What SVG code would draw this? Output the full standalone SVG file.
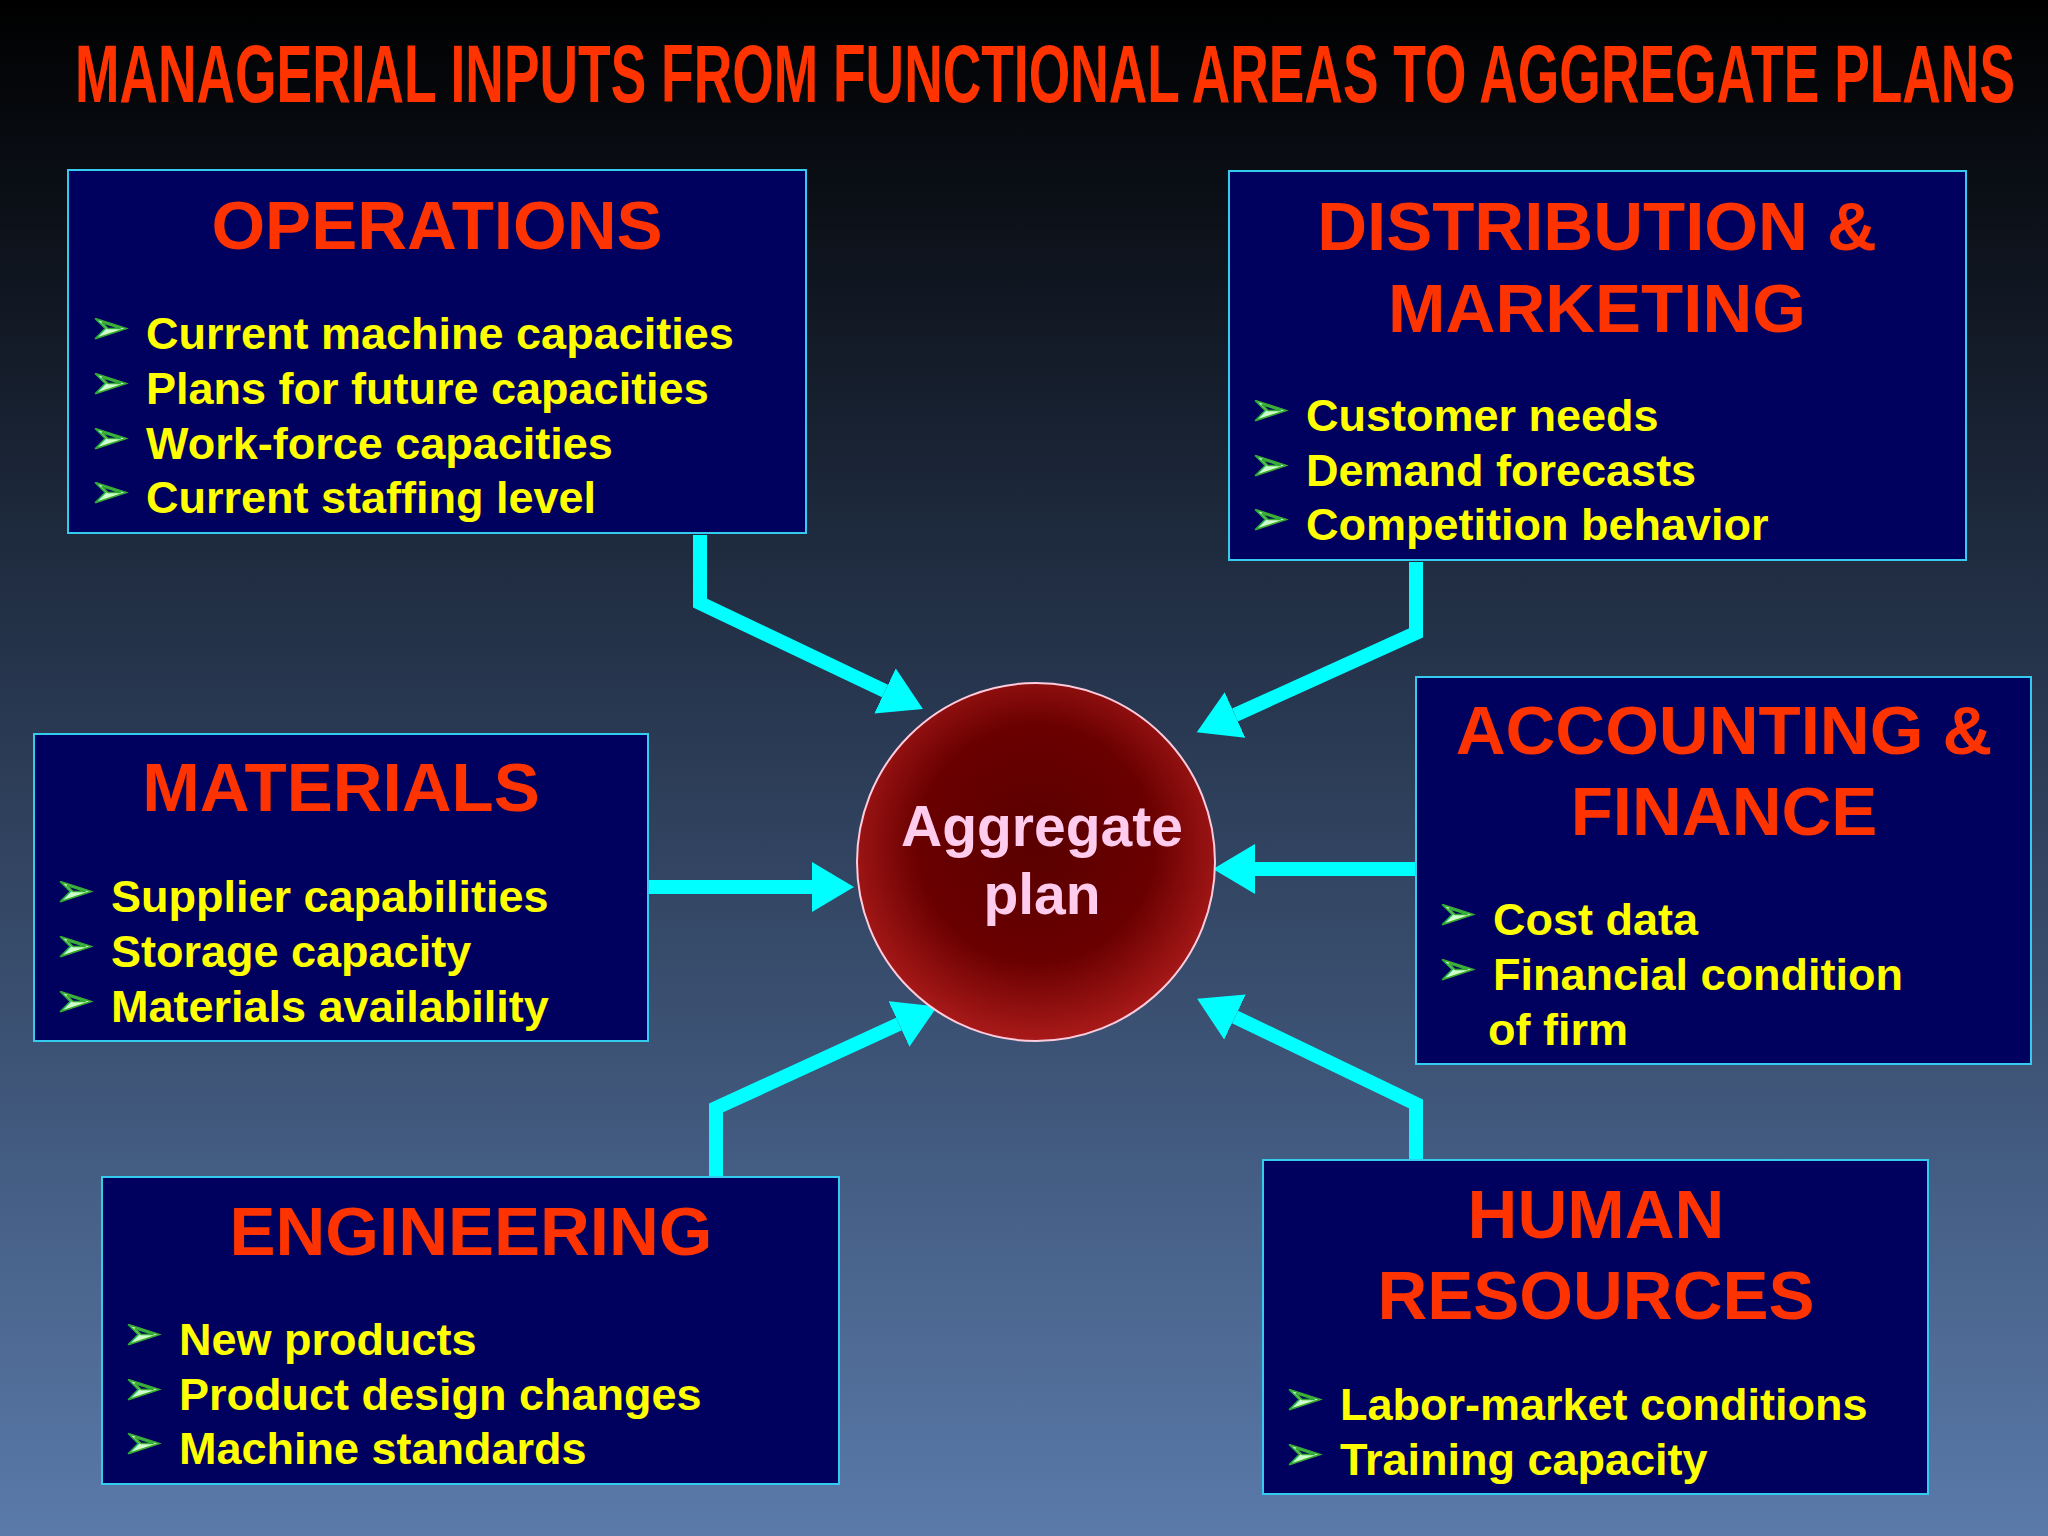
<svg xmlns="http://www.w3.org/2000/svg" width="2048" height="1536" viewBox="0 0 2048 1536">
<defs>
<linearGradient id="bg" x1="0" y1="0" x2="0" y2="1">
<stop offset="0" stop-color="#000000"/><stop offset="0.35" stop-color="#1e2a3e"/><stop offset="1" stop-color="#5a7aaa"/>
</linearGradient>
<radialGradient id="ball" cx="0.5" cy="0.45" r="0.55">
<stop offset="0" stop-color="#5a0000"/><stop offset="0.6" stop-color="#6a0000"/><stop offset="1" stop-color="#aa1a1a"/>
</radialGradient>
<marker id="ah" markerUnits="userSpaceOnUse" markerWidth="44" markerHeight="50" refX="0" refY="25" orient="auto" viewBox="0 0 44 50">
<path d="M0,0 L42,25 L0,50 z" fill="#00ffff"/>
</marker>
<style>
.box{fill:#00005e;stroke:#33ccee;stroke-width:2}
.hd{font-family:"Liberation Sans",Arial,sans-serif;font-weight:bold;font-size:69px;fill:#ff3300;text-anchor:middle}
.it{font-family:"Liberation Sans",Arial,sans-serif;font-weight:bold;font-size:45px;fill:#ffff00}
.bl{font-family:"DejaVu Sans",sans-serif;font-size:46px;fill:#ccffcc;stroke:#33aa33;stroke-width:1.5}
.ar{fill:none;stroke:#00ffff;stroke-width:14;marker-end:url(#ah)}
</style>
</defs>
<rect width="2048" height="1536" fill="url(#bg)"/>
<text x="1045" y="102" font-family="Liberation Sans,Arial,sans-serif" font-weight="bold" font-size="82" fill="#ff3300" text-anchor="middle" textLength="1940" lengthAdjust="spacingAndGlyphs">MANAGERIAL INPUTS FROM FUNCTIONAL AREAS TO AGGREGATE PLANS</text>
<g id="connectors">
<path class="ar" d="M700,535 L700,603 L885,691"/>
<path class="ar" d="M1416,562 L1416,633 L1235,715"/>
<path class="ar" d="M649,887 L812,887"/>
<path class="ar" d="M1416,869 L1255,869"/>
<path class="ar" d="M716,1177 L716,1108 L899,1024"/>
<path class="ar" d="M1416,1160 L1416,1104 L1235,1017"/>
</g>
<g id="operations">
<rect class="box" x="68" y="170" width="738" height="363"/>
<text class="hd" x="437" y="249">OPERATIONS</text>
<text class="bl" x="90" y="343">➢</text><text class="it" x="146" y="349">Current machine capacities</text>
<text class="bl" x="90" y="398">➢</text><text class="it" x="146" y="404">Plans for future capacities</text>
<text class="bl" x="90" y="453">➢</text><text class="it" x="146" y="459">Work-force capacities</text>
<text class="bl" x="90" y="507">➢</text><text class="it" x="146" y="513">Current staffing level</text>
</g>
<g id="distribution">
<rect class="box" x="1229" y="171" width="737" height="389"/>
<text class="hd" x="1597" y="250">DISTRIBUTION &amp;</text>
<text class="hd" x="1597" y="332">MARKETING</text>
<text class="bl" x="1250" y="425">➢</text><text class="it" x="1306" y="431">Customer needs</text>
<text class="bl" x="1250" y="480">➢</text><text class="it" x="1306" y="486">Demand forecasts</text>
<text class="bl" x="1250" y="534">➢</text><text class="it" x="1306" y="540">Competition behavior</text>
</g>
<g id="accounting">
<rect class="box" x="1416" y="677" width="615" height="387"/>
<text class="hd" x="1724" y="754">ACCOUNTING &amp;</text>
<text class="hd" x="1724" y="835">FINANCE</text>
<text class="bl" x="1437" y="929">➢</text><text class="it" x="1493" y="935">Cost data</text>
<text class="bl" x="1437" y="984">➢</text><text class="it" x="1493" y="990">Financial condition</text>
<text class="it" x="1488" y="1045">of firm</text>
</g>
<g id="materials">
<rect class="box" x="34" y="734" width="614" height="307"/>
<text class="hd" x="341" y="811">MATERIALS</text>
<text class="bl" x="55" y="906">➢</text><text class="it" x="111" y="912">Supplier capabilities</text>
<text class="bl" x="55" y="961">➢</text><text class="it" x="111" y="967">Storage capacity</text>
<text class="bl" x="55" y="1016">➢</text><text class="it" x="111" y="1022">Materials availability</text>
</g>
<g id="engineering">
<rect class="box" x="102" y="1177" width="737" height="307"/>
<text class="hd" x="471" y="1255">ENGINEERING</text>
<text class="bl" x="123" y="1349">➢</text><text class="it" x="179" y="1355">New products</text>
<text class="bl" x="123" y="1404">➢</text><text class="it" x="179" y="1410">Product design changes</text>
<text class="bl" x="123" y="1458">➢</text><text class="it" x="179" y="1464">Machine standards</text>
</g>
<g id="human-resources">
<rect class="box" x="1263" y="1160" width="665" height="334"/>
<text class="hd" x="1596" y="1238">HUMAN</text>
<text class="hd" x="1596" y="1319">RESOURCES</text>
<text class="bl" x="1284" y="1414">➢</text><text class="it" x="1340" y="1420">Labor-market conditions</text>
<text class="bl" x="1284" y="1469">➢</text><text class="it" x="1340" y="1475">Training capacity</text>
</g>
<g id="aggregate-plan">
<circle cx="1036" cy="862" r="179" fill="url(#ball)" stroke="#ffccdd" stroke-width="2"/>
<text x="1042" y="846" font-family="Liberation Sans,Arial,sans-serif" font-weight="bold" font-size="57" fill="#ffccee" text-anchor="middle">Aggregate</text>
<text x="1042" y="914" font-family="Liberation Sans,Arial,sans-serif" font-weight="bold" font-size="57" fill="#ffccee" text-anchor="middle">plan</text>
</g>
</svg>
